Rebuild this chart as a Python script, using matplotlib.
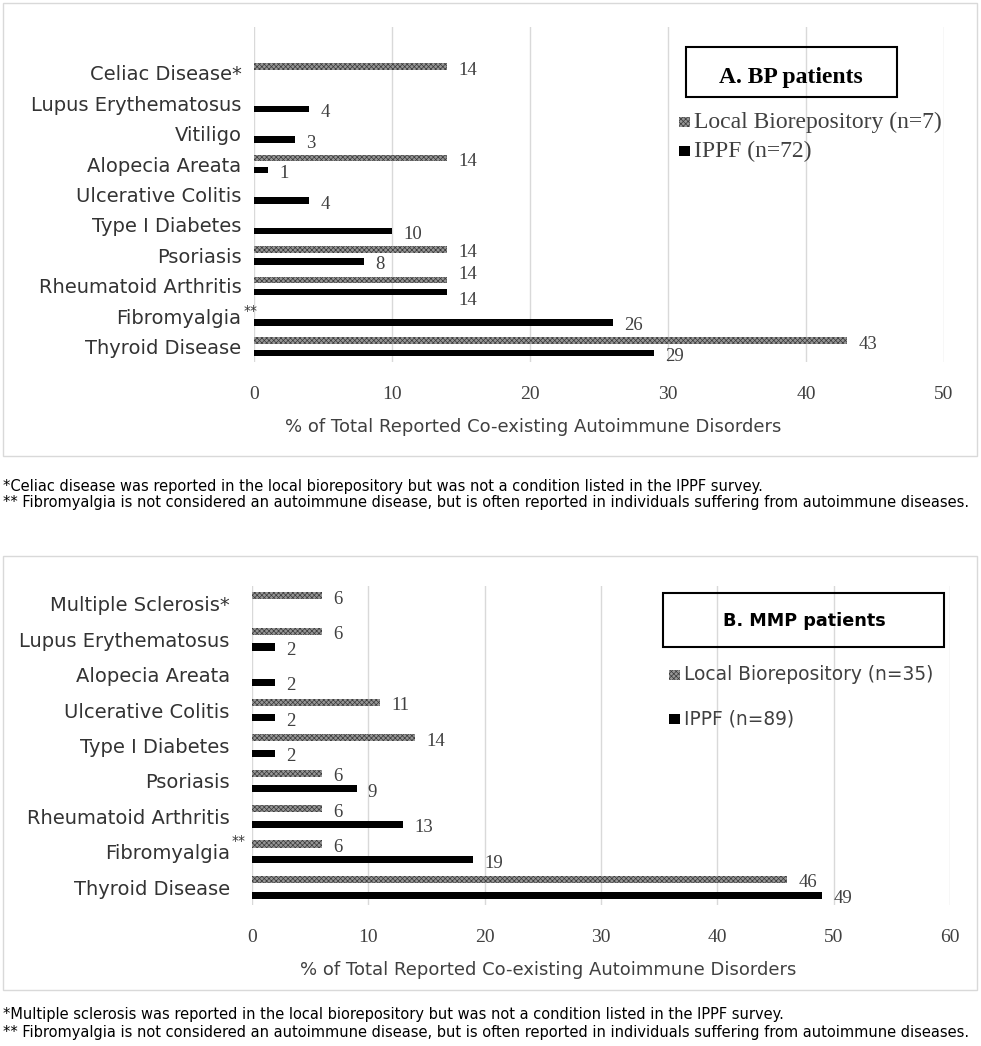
import numpy as np
import matplotlib.pyplot as plt
from matplotlib.patches import Rectangle

# data (bottom category first)
bp_categories = ['Thyroid Disease', 'Fibromyalgia', 'Rheumatoid Arthritis', 'Psoriasis',
                 'Type I Diabetes', 'Ulcerative Colitis', 'Alopecia Areata', 'Vitiligo',
                 'Lupus Erythematosus', 'Celiac Disease*']
bp_local = [43, 0, 14, 14, 0, 0, 14, 0, 0, 14]
bp_ippf = [29, 26, 14, 8, 10, 4, 1, 3, 4, 0]

mmp_categories = ['Thyroid Disease', 'Fibromyalgia', 'Rheumatoid Arthritis', 'Psoriasis',
                  'Type I Diabetes', 'Ulcerative Colitis', 'Alopecia Areata',
                  'Lupus Erythematosus', 'Multiple Sclerosis*']
mmp_local = [46, 6, 6, 6, 14, 11, 0, 6, 6]
mmp_ippf = [49, 19, 13, 9, 2, 2, 2, 2, 0]

bp_series = ['Local Biorepository (n=7)', 'IPPF (n=72)']
mmp_series = ['Local Biorepository (n=35)', 'IPPF (n=89)']
xlabel = '% of Total Reported Co-existing Autoimmune Disorders'

bp_notes = ['*Celiac disease was reported in the local biorepository but was not a condition listed in the IPPF survey.',
            '** Fibromyalgia is not considered an autoimmune disease, but is often reported in individuals suffering from autoimmune diseases.']
mmp_notes = ['*Multiple sclerosis was reported in the local biorepository but was not a condition listed in the IPPF survey.',
             '** Fibromyalgia is not considered an autoimmune disease, but is often reported in individuals suffering from autoimmune diseases.']

SANS = ['DejaVu Sans']
SERIF = ['Liberation Serif', 'DejaVu Serif']
plt.rcParams['hatch.linewidth'] = 0.5
LOCAL_STYLE = dict(facecolor='#969696', hatch='xxxxxxx', edgecolor='#3a3a3a', lw=0)

W, H = 981, 1046
fig = plt.figure(figsize=(W / 100, H / 100), dpi=100)


def px_axes(left, top, right, bottom):
    return fig.add_axes([left / W, 1 - bottom / H, (right - left) / W, (bottom - top) / H])


def frame(left, top, right, bottom, color, lw):
    fig.patches.append(Rectangle((left / W, 1 - bottom / H), (right - left) / W, (bottom - top) / H,
                                 transform=fig.transFigure, fill=False, edgecolor=color, lw=lw))


def legend_px(x, y0, dy, labels, family, size):
    # hand-placed legend: small swatch + label, y0 = centre of first row
    for k, lab in enumerate(labels):
        yc = y0 + k * dy
        style = LOCAL_STYLE if k == 0 else dict(facecolor='black', lw=0)
        fig.patches.append(Rectangle((x / W, 1 - (yc + 5) / H), 11 / W, 10 / H,
                                     transform=fig.transFigure, **style))
        fig.text((x + 15) / W, 1 - yc / H, lab, ha='left', va='center', fontsize=size,
                 family=family, color='#404040')


def panel(ax, cats, local, ippf, xmax, top_slots, off, h, nudge, ypad, star_dy):
    y = np.arange(len(cats))
    ax.barh(y + off, local, height=h, **LOCAL_STYLE)
    ax.barh(y - off, ippf, height=h, color='black', lw=0)
    for i in y:
        for vals, yy, key in ((local, i + off, 'local'), (ippf, i - off, 'ippf')):
            if vals[i] > 0:
                dy = nudge.get((key, i), -2.5)
                ax.annotate(str(vals[i]), xy=(vals[i], yy), xytext=(8, dy), textcoords='offset points',
                            ha='left', va='center', fontsize=13.5, family=SERIF, color='#404040')
    ax.set_xlim(0, xmax)
    # the BP sheet leaves one empty slot above the last category
    ax.set_ylim(-0.5, len(cats) - 0.5 + top_slots)
    ax.set_xticks(range(0, xmax + 1, 10))
    ax.set_yticks(y, cats)
    for lab in ax.get_xticklabels():
        lab.set_family(SERIF)
    for lab in ax.get_yticklabels():
        lab.set_family(SANS)
    ax.tick_params(axis='x', length=0, pad=17, labelsize=14, labelcolor='#404040')
    ax.tick_params(axis='y', length=0, pad=ypad, labelsize=14, labelcolor='#333333')
    ax.grid(axis='x', color='#d9d9d9', lw=1)
    ax.set_axisbelow(True)
    for s in ax.spines.values():
        s.set_visible(False)
    # small raised ** right after the Fibromyalgia label
    ax.annotate('**', xy=(0, 1), xycoords=ax.get_yaxis_transform(),
                xytext=(-ypad + 1.5, star_dy), textcoords='offset points', ha='left',
                va='center', fontsize=10, family=SANS, color='#333333')


# ---- panel A ----
frame(3, 3, 977, 456, '#d9d9d9', 1)
axA = px_axes(254, 27, 944, 362)
panel(axA, bp_categories, bp_local, bp_ippf, 50, 1, 0.2, 0.21,
      {('local', 2): 3.6, ('ippf', 2): -6.5}, 9, 4)
frame(686, 47, 897, 97, 'black', 1.5)
fig.text(791 / W, 1 - 77 / H, 'A. BP patients', ha='center', va='center', fontsize=17,
         fontweight='bold', family=SERIF, color='black')
legend_px(679, 122, 29, bp_series, SERIF, 17)
fig.text(533 / W, 1 - 427 / H, xlabel, ha='center', va='center', fontsize=13, family=SANS,
         color='#404040')
fig.text(3 / W, 1 - 486 / H, bp_notes[0], ha='left', va='center', fontsize=10.5, family=SANS)
fig.text(3 / W, 1 - 502 / H, bp_notes[1], ha='left', va='center', fontsize=10.5, family=SANS)

# ---- panel B ----
frame(3, 556, 977, 990, '#d9d9d9', 1)
axB = px_axes(252, 586, 950, 905)
panel(axB, mmp_categories, mmp_local, mmp_ippf, 60, 0, 0.22, 0.2, {}, 16, 8)
frame(663, 593, 944, 647, 'black', 1.5)
fig.text(804 / W, 1 - 621 / H, 'B. MMP patients', ha='center', va='center', fontsize=12.7,
         fontweight='bold', family=SANS, color='black')
legend_px(669, 675, 44, mmp_series, SANS, 13.4)
fig.text(548 / W, 1 - 970 / H, xlabel, ha='center', va='center', fontsize=13, family=SANS,
         color='#404040')
fig.text(3 / W, 1 - 1014 / H, mmp_notes[0], ha='left', va='center', fontsize=10.5, family=SANS)
fig.text(3 / W, 1 - 1033 / H, mmp_notes[1], ha='left', va='center', fontsize=10.5, family=SANS)

fig.savefig('out.png', dpi=100, facecolor='white')
